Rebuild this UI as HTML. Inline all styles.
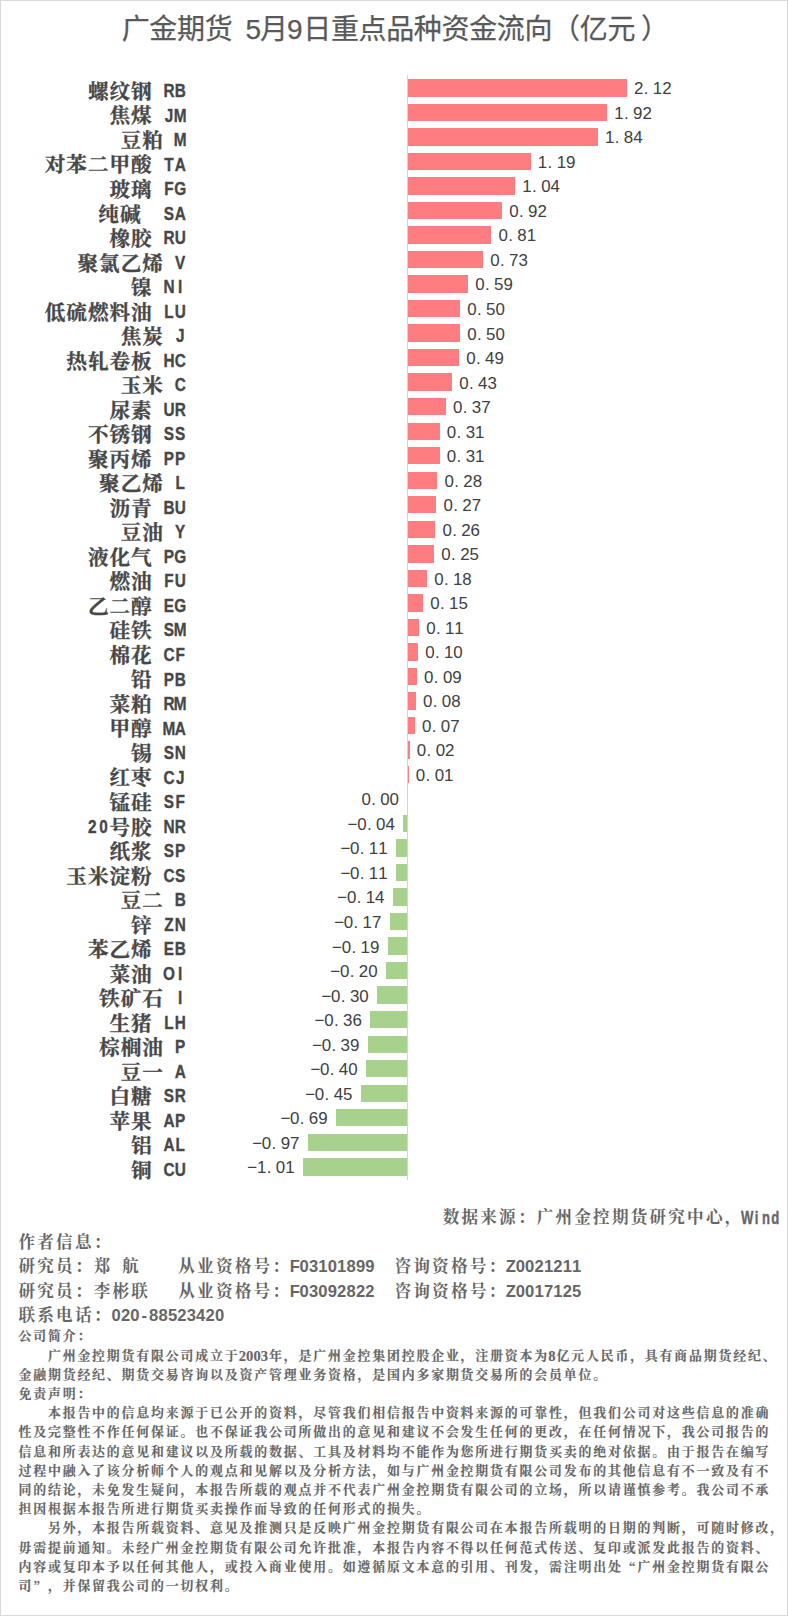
<!DOCTYPE html>
<html lang="zh-CN"><head><meta charset="utf-8"><title>广金期货 5月9日重点品种资金流向</title>
<style>
html,body{margin:0;padding:0;background:#fff}
#page{position:relative;width:788px;height:1616px;box-sizing:border-box;background:#fff;overflow:hidden}
#frame{position:absolute;left:0;top:0;width:788px;height:1616px;box-sizing:border-box;border:1px solid #d9d9d9;pointer-events:none}
svg text{text-anchor:middle;dominant-baseline:central}
.title{font-family:"Liberation Sans","Noto Sans CJK SC",sans-serif;font-size:28.0px;fill:#595959;stroke:#595959;stroke-width:0.25px}
.val{font-family:"Liberation Sans",sans-serif;font-size:16.9px;fill:#404040}
.lab{font-family:"Noto Serif CJK SC",serif;font-weight:700;font-size:20.6px;fill:#474747;stroke:#474747;stroke-width:0.3px}
.lat{font-family:"Liberation Sans",sans-serif;font-weight:700;font-size:19.2px;fill:#474747;stroke:#474747;stroke-width:0.35px}
.big{font-family:"Liberation Sans","Noto Serif CJK SC",serif;font-weight:700;font-size:16.6px;fill:#666666;white-space:pre}
.wind{font-family:"Liberation Sans",sans-serif;font-weight:700;font-size:18.7px;fill:#666666;stroke:#666666;stroke-width:0.4px}
.small{font-family:"Liberation Serif","Noto Serif CJK SC",serif;font-weight:700;font-size:12.9px;fill:#666666;white-space:pre;stroke:#666666;stroke-width:0.15px}
.sd{font-size:14.6px}
.q{font-family:"Noto Serif CJK SC",serif}
</style></head>
<body><div id="page">
<svg width="788" height="1616" viewBox="0 0 788 1616" style="position:absolute;left:0;top:0">
<rect x="407" y="75.2" width="1" height="1104.8" fill="#d4d4d4"/>
<text class="title" y="29.2" x="135.72 163.38 191.03 218.68 239.41 253.24 273.98 294.71 317.25 344.90 372.55 400.20 427.85 455.50 483.15 510.80 538.45 566.10 593.75 621.40 655.05">广金期货 5月9日重点品种资金流向（亿元）</text>
<rect x="408" y="79" width="219" height="18" fill="#ff7c80"/>
<text class="val" y="88.80" x="638.71 646.11 657.51 666.91">2.12</text>
<text class="lab" y="89.90" x="98.20 119.80 141.40">螺纹钢</text>
<text class="lat" transform="scale(0.8,1)" y="90.40" x="211.25 225.25">RB</text>
<rect x="408" y="104" width="199" height="17" fill="#ff7c80"/>
<text class="val" y="113.32" x="618.96 626.36 637.76 647.16">1.92</text>
<text class="lab" y="114.42" x="119.80 141.40">焦煤</text>
<text class="lat" transform="scale(0.8,1)" y="114.92" x="211.25 225.25">JM</text>
<rect x="408" y="128" width="190" height="18" fill="#ff7c80"/>
<text class="val" y="137.84" x="609.76 617.16 628.56 637.96">1.84</text>
<text class="lab" y="138.94" x="131.00 152.60">豆粕</text>
<text class="lat" transform="scale(0.8,1)" y="139.44" x="225.25">M</text>
<rect x="408" y="153" width="123" height="17" fill="#ff7c80"/>
<text class="val" y="162.36" x="542.55 549.95 561.35 570.75">1.19</text>
<text class="lab" y="163.46" x="55.00 76.60 98.20 119.80 141.40">对苯二甲酸</text>
<text class="lat" transform="scale(0.8,1)" y="163.96" x="211.25 225.25">TA</text>
<rect x="408" y="177" width="107" height="18" fill="#ff7c80"/>
<text class="val" y="186.88" x="527.04 534.44 545.84 555.24">1.04</text>
<text class="lab" y="187.98" x="119.80 141.40">玻璃</text>
<text class="lat" transform="scale(0.8,1)" y="188.48" x="211.25 225.25">FG</text>
<rect x="408" y="202" width="94" height="17" fill="#ff7c80"/>
<text class="val" y="211.40" x="513.90 521.30 532.70 542.10">0.92</text>
<text class="lab" y="212.50" x="108.60 130.20">纯碱</text>
<text class="lat" transform="scale(0.8,1)" y="213.00" x="211.25 225.25">SA</text>
<rect x="408" y="226" width="83" height="18" fill="#ff7c80"/>
<text class="val" y="235.92" x="503.25 510.65 522.05 531.45">0.81</text>
<text class="lab" y="237.02" x="119.80 141.40">橡胶</text>
<text class="lat" transform="scale(0.8,1)" y="237.52" x="211.25 225.25">RU</text>
<rect x="408" y="251" width="75" height="17" fill="#ff7c80"/>
<text class="val" y="260.44" x="494.98 502.38 513.78 523.18">0.73</text>
<text class="lab" y="261.54" x="87.80 109.40 131.00 152.60">聚氯乙烯</text>
<text class="lat" transform="scale(0.8,1)" y="262.04" x="225.25">V</text>
<rect x="408" y="275" width="60" height="18" fill="#ff7c80"/>
<text class="val" y="284.96" x="479.89 487.29 498.69 508.09">0.59</text>
<text class="lab" y="286.06" x="141.40">镍</text>
<text class="lat" transform="scale(0.8,1)" y="286.56" x="211.25 225.25">NI</text>
<rect x="408" y="300" width="52" height="17" fill="#ff7c80"/>
<text class="val" y="309.48" x="471.92 479.32 490.72 500.12">0.50</text>
<text class="lab" y="310.58" x="55.00 76.60 98.20 119.80 141.40">低硫燃料油</text>
<text class="lat" transform="scale(0.8,1)" y="311.08" x="211.25 225.25">LU</text>
<rect x="408" y="324" width="52" height="18" fill="#ff7c80"/>
<text class="val" y="334.00" x="471.92 479.32 490.72 500.12">0.50</text>
<text class="lab" y="335.10" x="131.00 152.60">焦炭</text>
<text class="lat" transform="scale(0.8,1)" y="335.60" x="225.25">J</text>
<rect x="408" y="349" width="51" height="17" fill="#ff7c80"/>
<text class="val" y="358.52" x="470.89 478.29 489.69 499.09">0.49</text>
<text class="lab" y="359.62" x="76.60 98.20 119.80 141.40">热轧卷板</text>
<text class="lat" transform="scale(0.8,1)" y="360.12" x="211.25 225.25">HC</text>
<rect x="408" y="373" width="44" height="18" fill="#ff7c80"/>
<text class="val" y="383.04" x="463.96 471.36 482.76 492.16">0.43</text>
<text class="lab" y="384.14" x="131.00 152.60">玉米</text>
<text class="lat" transform="scale(0.8,1)" y="384.64" x="225.25">C</text>
<rect x="408" y="398" width="38" height="17" fill="#ff7c80"/>
<text class="val" y="407.56" x="457.76 465.16 476.56 485.96">0.37</text>
<text class="lab" y="408.66" x="119.80 141.40">尿素</text>
<text class="lat" transform="scale(0.8,1)" y="409.16" x="211.25 225.25">UR</text>
<rect x="408" y="423" width="32" height="17" fill="#ff7c80"/>
<text class="val" y="432.08" x="451.55 458.95 470.35 479.75">0.31</text>
<text class="lab" y="433.18" x="98.20 119.80 141.40">不锈钢</text>
<text class="lat" transform="scale(0.8,1)" y="433.68" x="211.25 225.25">SS</text>
<rect x="408" y="447" width="32" height="17" fill="#ff7c80"/>
<text class="val" y="456.60" x="451.55 458.95 470.35 479.75">0.31</text>
<text class="lab" y="457.70" x="98.20 119.80 141.40">聚丙烯</text>
<text class="lat" transform="scale(0.8,1)" y="458.20" x="211.25 225.25">PP</text>
<rect x="408" y="472" width="29" height="17" fill="#ff7c80"/>
<text class="val" y="481.12" x="449.18 456.58 467.98 477.38">0.28</text>
<text class="lab" y="482.22" x="109.40 131.00 152.60">聚乙烯</text>
<text class="lat" transform="scale(0.8,1)" y="482.72" x="225.25">L</text>
<rect x="408" y="496" width="28" height="17" fill="#ff7c80"/>
<text class="val" y="505.64" x="448.14 455.54 466.94 476.34">0.27</text>
<text class="lab" y="506.74" x="119.80 141.40">沥青</text>
<text class="lat" transform="scale(0.8,1)" y="507.24" x="211.25 225.25">BU</text>
<rect x="408" y="521" width="27" height="17" fill="#ff7c80"/>
<text class="val" y="530.16" x="447.11 454.51 465.91 475.31">0.26</text>
<text class="lab" y="531.26" x="131.00 152.60">豆油</text>
<text class="lat" transform="scale(0.8,1)" y="531.76" x="225.25">Y</text>
<rect x="408" y="545" width="26" height="18" fill="#ff7c80"/>
<text class="val" y="554.68" x="446.07 453.47 464.87 474.27">0.25</text>
<text class="lab" y="555.78" x="98.20 119.80 141.40">液化气</text>
<text class="lat" transform="scale(0.8,1)" y="556.28" x="211.25 225.25">PG</text>
<rect x="408" y="570" width="19" height="17" fill="#ff7c80"/>
<text class="val" y="579.20" x="438.84 446.24 457.64 467.04">0.18</text>
<text class="lab" y="580.30" x="119.80 141.40">燃油</text>
<text class="lat" transform="scale(0.8,1)" y="580.80" x="211.25 225.25">FU</text>
<rect x="408" y="594" width="15" height="18" fill="#ff7c80"/>
<text class="val" y="603.72" x="435.01 442.41 453.81 463.21">0.15</text>
<text class="lab" y="604.82" x="98.20 119.80 141.40">乙二醇</text>
<text class="lat" transform="scale(0.8,1)" y="605.32" x="211.25 225.25">EG</text>
<rect x="408" y="619" width="11" height="17" fill="#ff7c80"/>
<text class="val" y="628.24" x="430.87 438.27 449.67 459.07">0.11</text>
<text class="lab" y="629.34" x="119.80 141.40">硅铁</text>
<text class="lat" transform="scale(0.8,1)" y="629.84" x="211.25 225.25">SM</text>
<rect x="408" y="643" width="10" height="18" fill="#ff7c80"/>
<text class="val" y="652.76" x="429.84 437.24 448.64 458.04">0.10</text>
<text class="lab" y="653.86" x="119.80 141.40">棉花</text>
<text class="lat" transform="scale(0.8,1)" y="654.36" x="211.25 225.25">CF</text>
<rect x="408" y="668" width="9" height="17" fill="#ff7c80"/>
<text class="val" y="677.28" x="428.81 436.21 447.61 457.01">0.09</text>
<text class="lab" y="678.38" x="141.40">铅</text>
<text class="lat" transform="scale(0.8,1)" y="678.88" x="211.25 225.25">PB</text>
<rect x="408" y="692" width="8" height="18" fill="#ff7c80"/>
<text class="val" y="701.80" x="427.77 435.17 446.57 455.97">0.08</text>
<text class="lab" y="702.90" x="119.80 141.40">菜粕</text>
<text class="lat" transform="scale(0.8,1)" y="703.40" x="211.25 225.25">RM</text>
<rect x="408" y="717" width="7" height="17" fill="#ff7c80"/>
<text class="val" y="726.32" x="426.74 434.14 445.54 454.94">0.07</text>
<text class="lab" y="727.42" x="119.80 141.40">甲醇</text>
<text class="lat" transform="scale(0.8,1)" y="727.92" x="211.25 225.25">MA</text>
<rect x="408" y="741" width="2" height="18" fill="#ff7c80"/>
<text class="val" y="750.84" x="421.57 428.97 440.37 449.77">0.02</text>
<text class="lab" y="751.94" x="141.40">锡</text>
<text class="lat" transform="scale(0.8,1)" y="752.44" x="211.25 225.25">SN</text>
<rect x="408" y="766" width="1" height="17" fill="#ff7c80"/>
<text class="val" y="775.36" x="420.53 427.93 439.33 448.73">0.01</text>
<text class="lab" y="776.46" x="119.80 141.40">红枣</text>
<text class="lat" transform="scale(0.8,1)" y="776.96" x="211.25 225.25">CJ</text>
<text class="val" y="799.88" x="366.09 373.49 384.89 394.29">0.00</text>
<text class="lab" y="800.98" x="119.80 141.40">锰硅</text>
<text class="lat" transform="scale(0.8,1)" y="801.48" x="211.25 225.25">SF</text>
<rect x="403" y="815" width="4" height="17" fill="#a9d18e"/>
<text class="val" y="824.40" x="352.56 361.96 369.36 380.76 390.16">−0.04</text>
<text class="lab" y="825.50" x="119.80 141.40">号胶</text>
<text class="lat" transform="scale(0.8,1)" y="826.00" x="115.25 129.25 211.25 225.25">20NR</text>
<rect x="396" y="839" width="11" height="18" fill="#a9d18e"/>
<text class="val" y="848.92" x="345.33 354.73 362.13 373.53 382.93">−0.11</text>
<text class="lab" y="850.02" x="119.80 141.40">纸浆</text>
<text class="lat" transform="scale(0.8,1)" y="850.52" x="211.25 225.25">SP</text>
<rect x="396" y="864" width="11" height="17" fill="#a9d18e"/>
<text class="val" y="873.44" x="345.33 354.73 362.13 373.53 382.93">−0.11</text>
<text class="lab" y="874.54" x="76.60 98.20 119.80 141.40">玉米淀粉</text>
<text class="lat" transform="scale(0.8,1)" y="875.04" x="211.25 225.25">CS</text>
<rect x="393" y="888" width="14" height="18" fill="#a9d18e"/>
<text class="val" y="897.96" x="342.22 351.62 359.02 370.42 379.82">−0.14</text>
<text class="lab" y="899.06" x="131.00 152.60">豆二</text>
<text class="lat" transform="scale(0.8,1)" y="899.56" x="225.25">B</text>
<rect x="390" y="913" width="17" height="17" fill="#a9d18e"/>
<text class="val" y="922.48" x="339.12 348.52 355.92 367.32 376.72">−0.17</text>
<text class="lab" y="923.58" x="141.40">锌</text>
<text class="lat" transform="scale(0.8,1)" y="924.08" x="211.25 225.25">ZN</text>
<rect x="388" y="937" width="19" height="18" fill="#a9d18e"/>
<text class="val" y="947.00" x="337.05 346.45 353.85 365.25 374.65">−0.19</text>
<text class="lab" y="948.10" x="98.20 119.80 141.40">苯乙烯</text>
<text class="lat" transform="scale(0.8,1)" y="948.60" x="211.25 225.25">EB</text>
<rect x="386" y="962" width="21" height="17" fill="#a9d18e"/>
<text class="val" y="971.52" x="335.30 344.70 352.10 363.50 372.90">−0.20</text>
<text class="lab" y="972.62" x="119.80 141.40">菜油</text>
<text class="lat" transform="scale(0.8,1)" y="973.12" x="211.25 225.25">OI</text>
<rect x="377" y="986" width="30" height="18" fill="#a9d18e"/>
<text class="val" y="996.04" x="326.40 335.80 343.20 354.60 364.00">−0.30</text>
<text class="lab" y="997.14" x="109.40 131.00 152.60">铁矿石</text>
<text class="lat" transform="scale(0.8,1)" y="997.64" x="225.25">I</text>
<rect x="370" y="1011" width="37" height="17" fill="#a9d18e"/>
<text class="val" y="1020.56" x="319.48 328.88 336.28 347.68 357.08">−0.36</text>
<text class="lab" y="1021.66" x="119.80 141.40">生猪</text>
<text class="lat" transform="scale(0.8,1)" y="1022.16" x="211.25 225.25">LH</text>
<rect x="368" y="1036" width="39" height="17" fill="#a9d18e"/>
<text class="val" y="1045.08" x="317.10 326.50 333.90 345.30 354.70">−0.39</text>
<text class="lab" y="1046.18" x="109.40 131.00 152.60">棕榈油</text>
<text class="lat" transform="scale(0.8,1)" y="1046.68" x="225.25">P</text>
<rect x="366" y="1060" width="41" height="17" fill="#a9d18e"/>
<text class="val" y="1069.60" x="315.34 324.74 332.14 343.54 352.94">−0.40</text>
<text class="lab" y="1070.70" x="131.00 152.60">豆一</text>
<text class="lat" transform="scale(0.8,1)" y="1071.20" x="225.25">A</text>
<rect x="361" y="1085" width="46" height="17" fill="#a9d18e"/>
<text class="val" y="1094.12" x="310.17 319.57 326.97 338.37 347.77">−0.45</text>
<text class="lab" y="1095.22" x="119.80 141.40">白糖</text>
<text class="lat" transform="scale(0.8,1)" y="1095.72" x="211.25 225.25">SR</text>
<rect x="336" y="1109" width="71" height="17" fill="#a9d18e"/>
<text class="val" y="1118.64" x="285.35 294.75 302.15 313.55 322.95">−0.69</text>
<text class="lab" y="1119.74" x="119.80 141.40">苹果</text>
<text class="lat" transform="scale(0.8,1)" y="1120.24" x="211.25 225.25">AP</text>
<rect x="308" y="1134" width="99" height="17" fill="#a9d18e"/>
<text class="val" y="1143.16" x="257.13 266.53 273.93 285.33 294.73">−0.97</text>
<text class="lab" y="1144.26" x="141.40">铝</text>
<text class="lat" transform="scale(0.8,1)" y="1144.76" x="211.25 225.25">AL</text>
<rect x="303" y="1158" width="104" height="18" fill="#a9d18e"/>
<text class="val" y="1167.68" x="252.27 261.67 269.07 280.47 289.87">−1.01</text>
<text class="lab" y="1168.78" x="141.40">铜</text>
<text class="lat" transform="scale(0.8,1)" y="1169.28" x="211.25 225.25">CU</text>
<text class="big" y="1217.80" x="451.00 469.80 488.60 507.40 526.20 545.00 563.80 582.60 601.40 620.20 639.00 657.80 676.60 695.40 714.20 733.00">数据来源：广州金控期货研究中心，</text>
<text class="wind" transform="scale(0.7,1)" y="1217.00" x="1067.29 1080.71 1094.14 1107.57">Wind</text>
<text class="big" xml:space="preserve" y="1242.30" x="26.80 45.60 64.40 83.20 102.00">作者信息：</text>
<text class="big" xml:space="preserve" y="1266.40" x="26.80 45.60 64.40 83.20 102.00 116.10 130.20 144.30 153.70 163.10 172.50 186.60 205.40 224.20 243.00 261.80 280.60 294.70 304.10 313.50 322.90 332.30 341.70 351.10 360.50 369.90 379.30 388.70 402.80 421.60 440.40 459.20 478.00 496.80 510.90 520.30 529.70 539.10 548.50 557.90 567.30 576.70">研究员：郑 航    从业资格号：F03101899  咨询资格号：Z0021211</text>
<text class="big" xml:space="preserve" y="1291.30" x="26.80 45.60 64.40 83.20 102.00 120.80 139.60 153.70 163.10 172.50 186.60 205.40 224.20 243.00 261.80 280.60 294.70 304.10 313.50 322.90 332.30 341.70 351.10 360.50 369.90 379.30 388.70 402.80 421.60 440.40 459.20 478.00 496.80 510.90 520.30 529.70 539.10 548.50 557.90 567.30 576.70">研究员：李彬联   从业资格号：F03092822  咨询资格号：Z0017125</text>
<text class="big" xml:space="preserve" y="1315.90" x="26.80 45.60 64.40 83.20 102.00 116.10 125.50 134.90 144.30 153.70 163.10 172.50 181.90 191.30 200.70 210.10 219.50">联系电话：020-88523420</text>
<text class="small" xml:space="preserve" y="1336.30" x="24.87 39.61 54.35 69.09 83.83">公司简介：</text>
<text class="small" xml:space="preserve" y="1355.50" x="54.35 69.09 83.83 98.57 113.31 128.05 142.79 157.53 172.27 187.01 201.75 216.49 231.23 242.29 249.66 257.03 264.40 275.45 290.19 304.93 319.67 334.41 349.15 363.89 378.63 393.37 408.11 422.85 437.59 452.33 467.07 481.81 496.55 511.29 526.03 540.77 551.83 562.88 577.62 592.36 607.10 621.84 636.58 651.32 666.06 680.80 695.54 710.28 725.02 739.76 754.50 769.24">广州金控期货有限公司成立于<tspan class="sd">2003</tspan>年，是广州金控集团控股企业，注册资本为<tspan class="sd">8</tspan>亿元人民币，具有商品期货经纪、</text>
<text class="small" xml:space="preserve" y="1374.70" x="24.87 39.61 54.35 69.09 83.83 98.57 113.31 128.05 142.79 157.53 172.27 187.01 201.75 216.49 231.23 245.97 260.71 275.45 290.19 304.93 319.67 334.41 349.15 363.89 378.63 393.37 408.11 422.85 437.59 452.33 467.07 481.81 496.55 511.29 526.03 540.77 555.51 570.25 584.99 599.73">金融期货经纪、期货交易咨询以及资产管理业务资格，是国内多家期货交易所的会员单位。</text>
<text class="small" xml:space="preserve" y="1393.90" x="24.87 39.61 54.35 69.09 83.83">免责声明：</text>
<text class="small" xml:space="preserve" y="1413.10" x="54.35 69.09 83.83 98.57 113.31 128.05 142.79 157.53 172.27 187.01 201.75 216.49 231.23 245.97 260.71 275.45 290.19 304.93 319.67 334.41 349.15 363.89 378.63 393.37 408.11 422.85 437.59 452.33 467.07 481.81 496.55 511.29 526.03 540.77 555.51 570.25 584.99 599.73 614.47 629.21 643.95 658.69 673.43 688.17 702.91 717.65 732.39 747.13 761.87">本报告中的信息均来源于已公开的资料，尽管我们相信报告中资料来源的可靠性，但我们公司对这些信息的准确</text>
<text class="small" xml:space="preserve" y="1432.30" x="24.87 39.61 54.35 69.09 83.83 98.57 113.31 128.05 142.79 157.53 172.27 187.01 201.75 216.49 231.23 245.97 260.71 275.45 290.19 304.93 319.67 334.41 349.15 363.89 378.63 393.37 408.11 422.85 437.59 452.33 467.07 481.81 496.55 511.29 526.03 540.77 555.51 570.25 584.99 599.73 614.47 629.21 643.95 658.69 673.43 688.17 702.91 717.65 732.39 747.13 761.87">性及完整性不作任何保证。也不保证我公司所做出的意见和建议不会发生任何的更改，在任何情况下，我公司报告的</text>
<text class="small" xml:space="preserve" y="1451.50" x="24.87 39.61 54.35 69.09 83.83 98.57 113.31 128.05 142.79 157.53 172.27 187.01 201.75 216.49 231.23 245.97 260.71 275.45 290.19 304.93 319.67 334.41 349.15 363.89 378.63 393.37 408.11 422.85 437.59 452.33 467.07 481.81 496.55 511.29 526.03 540.77 555.51 570.25 584.99 599.73 614.47 629.21 643.95 658.69 673.43 688.17 702.91 717.65 732.39 747.13 761.87">信息和所表达的意见和建议以及所载的数据、工具及材料均不能作为您所进行期货买卖的绝对依据。由于报告在编写</text>
<text class="small" xml:space="preserve" y="1470.70" x="24.87 39.61 54.35 69.09 83.83 98.57 113.31 128.05 142.79 157.53 172.27 187.01 201.75 216.49 231.23 245.97 260.71 275.45 290.19 304.93 319.67 334.41 349.15 363.89 378.63 393.37 408.11 422.85 437.59 452.33 467.07 481.81 496.55 511.29 526.03 540.77 555.51 570.25 584.99 599.73 614.47 629.21 643.95 658.69 673.43 688.17 702.91 717.65 732.39 747.13 761.87">过程中融入了该分析师个人的观点和见解以及分析方法，如与广州金控期货有限公司发布的其他信息有不一致及有不</text>
<text class="small" xml:space="preserve" y="1489.90" x="24.87 39.61 54.35 69.09 83.83 98.57 113.31 128.05 142.79 157.53 172.27 187.01 201.75 216.49 231.23 245.97 260.71 275.45 290.19 304.93 319.67 334.41 349.15 363.89 378.63 393.37 408.11 422.85 437.59 452.33 467.07 481.81 496.55 511.29 526.03 540.77 555.51 570.25 584.99 599.73 614.47 629.21 643.95 658.69 673.43 688.17 702.91 717.65 732.39 747.13 761.87">同的结论，未免发生疑问，本报告所载的观点并不代表广州金控期货有限公司的立场，所以请谨慎参考。我公司不承</text>
<text class="small" xml:space="preserve" y="1509.10" x="24.87 39.61 54.35 69.09 83.83 98.57 113.31 128.05 142.79 157.53 172.27 187.01 201.75 216.49 231.23 245.97 260.71 275.45 290.19 304.93 319.67 334.41 349.15 363.89 378.63 393.37 408.11 422.85">担因根据本报告所进行期货买卖操作而导致的任何形式的损失。</text>
<text class="small" xml:space="preserve" y="1528.30" x="54.35 69.09 83.83 98.57 113.31 128.05 142.79 157.53 172.27 187.01 201.75 216.49 231.23 245.97 260.71 275.45 290.19 304.93 319.67 334.41 349.15 363.89 378.63 393.37 408.11 422.85 437.59 452.33 467.07 481.81 496.55 511.29 526.03 540.77 555.51 570.25 584.99 599.73 614.47 629.21 643.95 658.69 673.43 688.17 702.91 717.65 732.39 747.13 761.87 776.61">另外，本报告所载资料、意见及推测只是反映广州金控期货有限公司在本报告所载明的日期的判断，可随时修改，</text>
<text class="small" xml:space="preserve" y="1547.50" x="24.87 39.61 54.35 69.09 83.83 98.57 113.31 128.05 142.79 157.53 172.27 187.01 201.75 216.49 231.23 245.97 260.71 275.45 290.19 304.93 319.67 334.41 349.15 363.89 378.63 393.37 408.11 422.85 437.59 452.33 467.07 481.81 496.55 511.29 526.03 540.77 555.51 570.25 584.99 599.73 614.47 629.21 643.95 658.69 673.43 688.17 702.91 717.65 732.39 747.13 761.87">毋需提前通知。未经广州金控期货有限公司允许批准，本报告内容不得以任何范式传送、复印或派发此报告的资料、</text>
<text class="small" xml:space="preserve" y="1566.70" x="24.87 39.61 54.35 69.09 83.83 98.57 113.31 128.05 142.79 157.53 172.27 187.01 201.75 216.49 231.23 245.97 260.71 275.45 290.19 304.93 319.67 334.41 349.15 363.89 378.63 393.37 408.11 422.85 437.59 452.33 467.07 481.81 496.55 511.29 526.03 540.77 555.51 570.25 584.99 599.73 614.47 629.21 643.95 658.69 673.43 688.17 702.91 717.65 732.39 747.13 761.87">内容或复印本予以任何其他人，或投入商业使用。如遵循原文本意的引用、刊发，需注明出处<tspan class="q">“</tspan>广州金控期货有限公</text>
<text class="small" xml:space="preserve" y="1585.90" x="24.87 39.61 54.35 69.09 83.83 98.57 113.31 128.05 142.79 157.53 172.27 187.01 201.75 216.49 231.23">司<tspan class="q">”</tspan>，并保留我公司的一切权利。</text>
</svg>

<div id="frame"></div>
</div></body></html>
